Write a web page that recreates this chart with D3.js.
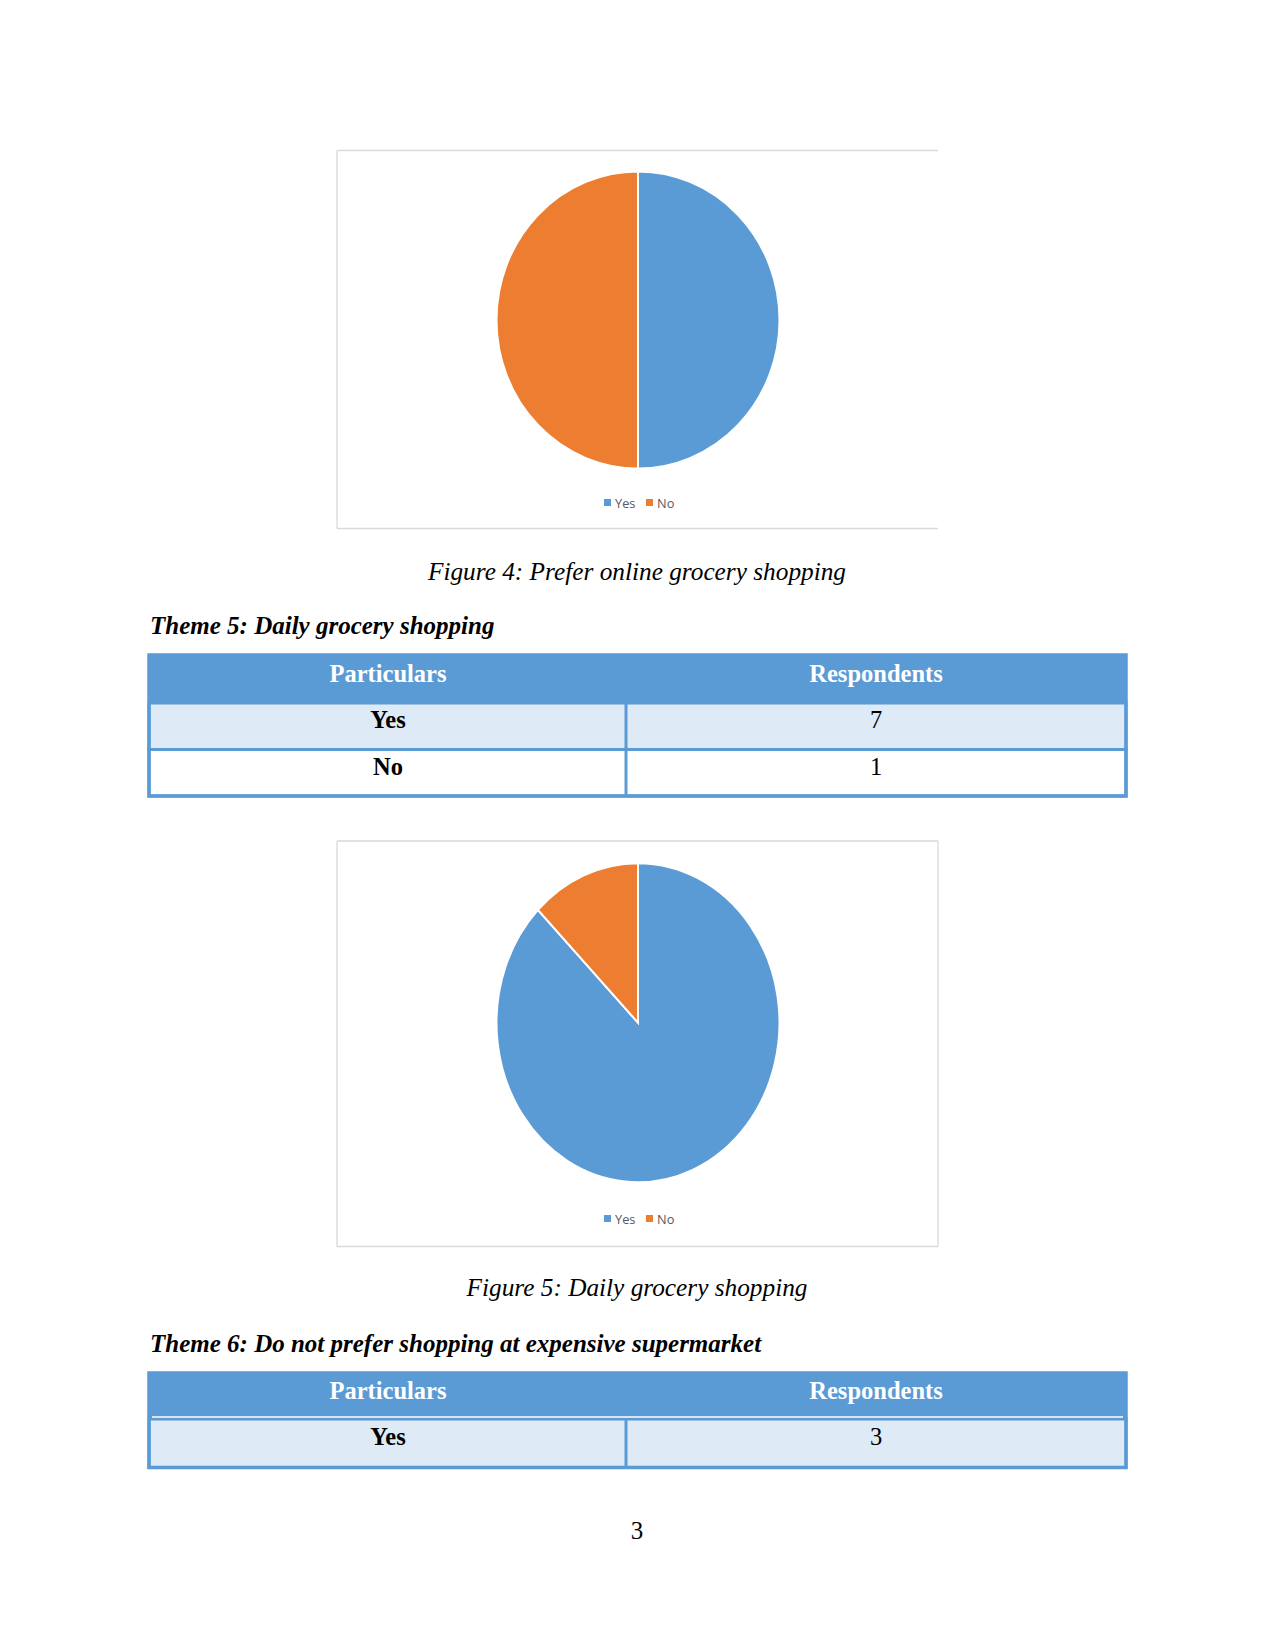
<!DOCTYPE html>
<html>
<head>
<meta charset="utf-8">
<script src="https://cdn.jsdelivr.net/npm/d3@7"></script>
<style>
  body { margin: 0; background: #fff; }
  text { font-family: "Liberation Serif", "Times New Roman", serif; }
  .legend text { font-family: "Open Sans", "Liberation Sans", sans-serif; fill: #595959; }
</style>
</head>
<body>
<script>
// chart data
var pieCategories = ["Yes", "No"];
var pieColors = ["#5b9bd5", "#ed7d31"];
var fig4Values = [4, 4];
var fig5Values = [7, 1];

// table data
var tableHeader = ["Particulars", "Respondents"];
var theme5Rows = [["Yes", "7"], ["No", "1"]];
var theme6Rows = [["Yes", "3"]];

var W = 1275, H = 1651;
var svg = d3.select("body").append("svg")
    .attr("width", W)
    .attr("height", H);

function drawPie(box, values, rightBorder) {
    var g = svg.append("g");
    // chart frame
    var fr = g.append("g").attr("stroke", "#d9d9d9").attr("stroke-width", 1.3).attr("fill", "none");
    fr.append("line").attr("x1", box.x0).attr("x2", box.x1).attr("y1", box.y0).attr("y2", box.y0);
    fr.append("line").attr("x1", box.x0).attr("x2", box.x1).attr("y1", box.y1).attr("y2", box.y1);
    fr.append("line").attr("x1", box.x0).attr("x2", box.x0).attr("y1", box.y0).attr("y2", box.y1);
    if (rightBorder) fr.append("line").attr("x1", box.x1).attr("x2", box.x1).attr("y1", box.y0).attr("y2", box.y1);

    var pie = d3.pie().sort(null).value(function(d) { return d; });
    var arc = d3.arc().innerRadius(0).outerRadius(box.rx);
    var arcs = pie(values);

    g.append("g")
        .attr("transform", "translate(" + box.cx + "," + box.cy + ") scale(1," + (box.ry / box.rx) + ")")
      .selectAll("path")
        .data(arcs)
        .enter().append("path")
        .attr("d", arc)
        .attr("fill", function(d, i) { return pieColors[i]; })
        .attr("stroke", "#fff")
        .attr("stroke-width", 2)
        .attr("vector-effect", "non-scaling-stroke");

    // legend
    var lg = g.append("g").attr("class", "legend")
        .attr("transform", "translate(604," + box.ly + ")");
    var offs = [0, 42];
    pieCategories.forEach(function(c, i) {
        lg.append("rect").attr("x", offs[i]).attr("y", -4).attr("width", 7).attr("height", 7)
            .attr("fill", pieColors[i]);
        lg.append("text").attr("x", offs[i] + 11).attr("y", 0).attr("dy", "0.36em")
            .attr("font-size", 12.8).text(c);
    });
}

function drawTable(t, rows) {
    var blue = "#5b9bd5";
    var g = svg.append("g");
    // header
    g.append("rect").attr("x", t.x0).attr("y", t.y0).attr("width", t.x1 - t.x0).attr("height", t.hh)
        .attr("fill", blue);
    g.selectAll("text.h").data(tableHeader).enter().append("text")
        .attr("class", "h")
        .attr("x", function(d, i) { return i === 0 ? 388 : 876; })
        .attr("y", t.y0 + t.hh / 2 + 3)
        .attr("text-anchor", "middle")
        .attr("font-weight", "bold")
        .attr("font-size", 24.5)
        .attr("fill", "#fff")
        .text(function(d) { return d; });

    var divX = 626;
    rows.forEach(function(r, i) {
        var y = t.y0 + t.hh + i * t.rh;
        g.append("rect").attr("x", t.x0).attr("y", y).attr("width", t.x1 - t.x0).attr("height", t.rh)
            .attr("fill", i % 2 === 0 ? "#deeaf6" : "#fff")
            .attr("stroke", blue).attr("stroke-width", 3);
        g.append("line").attr("x1", divX).attr("x2", divX).attr("y1", y).attr("y2", y + t.rh)
            .attr("stroke", blue).attr("stroke-width", 3);
        g.append("text").attr("x", 388).attr("y", y + t.rh / 2 + 2)
            .attr("text-anchor", "middle").attr("font-weight", "bold").attr("font-size", 24.5)
            .text(r[0]);
        g.append("text").attr("x", 876).attr("y", y + t.rh / 2 + 2)
            .attr("text-anchor", "middle").attr("font-size", 24.5)
            .text(r[1]);
    });
    if (t.whiteLine) {
        g.append("line").attr("x1", t.x0 + 3).attr("x2", t.x1 - 3)
            .attr("y1", t.y0 + t.hh - 2).attr("y2", t.y0 + t.hh - 2)
            .attr("stroke", "#fff").attr("stroke-width", 1.5);
    }
    // outer border
    g.append("rect").attr("x", t.x0).attr("y", t.y0).attr("width", t.x1 - t.x0)
        .attr("height", t.hh + rows.length * t.rh)
        .attr("fill", "none").attr("stroke", blue).attr("stroke-width", 3.5);
}

function text(str, x, y, opts) {
    svg.append("text").attr("x", x).attr("y", y)
        .attr("text-anchor", opts.anchor || "start")
        .attr("font-size", opts.size || 25)
        .attr("font-style", opts.italic ? "italic" : "normal")
        .attr("font-weight", opts.bold ? "bold" : "normal")
        .attr("fill", "#000")
        .text(str);
}

drawPie({x0: 337, x1: 938, y0: 150.5, y1: 528.5, cx: 638, cy: 320, rx: 141.5, ry: 148.5, ly: 503}, fig4Values, false);
text("Figure 4: Prefer online grocery shopping", 637, 580, {anchor: "middle", italic: true, size: 25.3});
text("Theme 5: Daily grocery shopping", 150, 634, {italic: true, bold: true});
drawTable({x0: 149, x1: 1126, y0: 655, hh: 48, rh: 46.5, whiteLine: false}, theme5Rows);

drawPie({x0: 337, x1: 938, y0: 841, y1: 1246.5, cx: 638, cy: 1022.7, rx: 141.5, ry: 159.5, ly: 1219}, fig5Values, true);
text("Figure 5: Daily grocery shopping", 637, 1296, {anchor: "middle", italic: true, size: 25.3});
text("Theme 6: Do not prefer shopping at expensive supermarket", 150, 1352, {italic: true, bold: true});
drawTable({x0: 149, x1: 1126, y0: 1373, hh: 46, rh: 48.5, whiteLine: true}, theme6Rows);

text("3", 637, 1539, {anchor: "middle"});
</script>
</body>
</html>
